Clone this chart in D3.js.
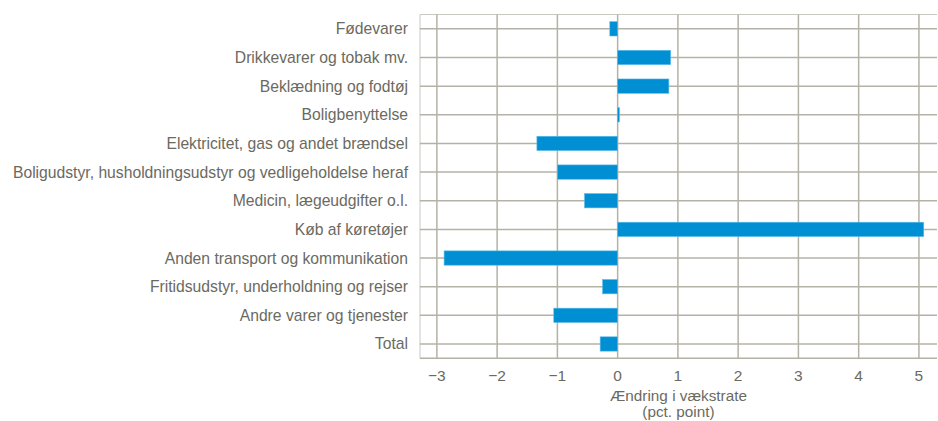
<!DOCTYPE html>
<html>
<head>
<meta charset="utf-8">
<script src="https://cdn.jsdelivr.net/npm/d3@7"></script>
<style>
  body { margin: 0; background: #fff; }
  text { font-family: "Liberation Sans", Arial, sans-serif; fill: #6b6a5f; }
</style>
</head>
<body>
<svg id="chart" width="938" height="421"></svg>
<script>
const categories = [
  "Fødevarer",
  "Drikkevarer og tobak mv.",
  "Beklædning og fodtøj",
  "Boligbenyttelse",
  "Elektricitet, gas og andet brændsel",
  "Boligudstyr, husholdningsudstyr og vedligeholdelse heraf",
  "Medicin, lægeudgifter o.l.",
  "Køb af køretøjer",
  "Anden transport og kommunikation",
  "Fritidsudstyr, underholdning og rejser",
  "Andre varer og tjenester",
  "Total"
];
const values = [-0.13, 0.88, 0.85, 0.03, -1.34, -1.0, -0.55, 5.08, -2.88, -0.25, -1.06, -0.29];
const xTicks = [-3, -2, -1, 0, 1, 2, 3, 4, 5];
const axisTitle = ["Ændring i vækstrate", "(pct. point)"];

const svg = d3.select("#chart");
const margin = { top: 14.5, right: 1, bottom: 62.7, left: 420 };
const width = 938 - margin.left - margin.right;
const height = 421 - margin.top - margin.bottom;

const g = svg.append("g").attr("transform", `translate(${margin.left},${margin.top})`);

const x = d3.scaleLinear().domain([-3.28, 5.3]).range([0, width]);
const y = d3.scaleBand().domain(categories).range([0, height])
  .paddingInner(0.5).paddingOuter(0.25);

const gridColor = "#b4b2a6";

// plot frame (top + left + bottom)
g.append("line").attr("x1", 0).attr("x2", width).attr("y1", 0).attr("y2", 0)
  .attr("stroke", "#c9c8c2").attr("stroke-width", 1);
g.append("line").attr("x1", 0).attr("x2", 0).attr("y1", 0).attr("y2", height)
  .attr("stroke", "#c9c8c2").attr("stroke-width", 1);
g.append("line").attr("x1", 0).attr("x2", width).attr("y1", height).attr("y2", height)
  .attr("stroke", gridColor).attr("stroke-width", 1.5);

// vertical grid
g.selectAll(".vgrid").data(xTicks).enter().append("line")
  .attr("class", "vgrid")
  .attr("x1", d => x(d)).attr("x2", d => x(d))
  .attr("y1", 0).attr("y2", height)
  .attr("stroke", gridColor).attr("stroke-width", 1.5);

// horizontal grid at category centres
g.selectAll(".hgrid").data(categories).enter().append("line")
  .attr("class", "hgrid")
  .attr("x1", 0).attr("x2", width)
  .attr("y1", d => y(d) + y.bandwidth() / 2)
  .attr("y2", d => y(d) + y.bandwidth() / 2)
  .attr("stroke", gridColor).attr("stroke-width", 1.5);

// bars
g.selectAll(".bar").data(values).enter().append("rect")
  .attr("class", "bar")
  .attr("x", d => x(Math.min(0, d)))
  .attr("width", d => Math.abs(x(d) - x(0)))
  .attr("y", (d, i) => y(categories[i]))
  .attr("height", y.bandwidth())
  .attr("fill", "#008fd3")
  .attr("stroke", "#5cbbe9")
  .attr("stroke-width", 0.6);

// category labels
g.selectAll(".cat").data(categories).enter().append("text")
  .attr("class", "cat")
  .attr("x", -12)
  .attr("y", d => y(d) + y.bandwidth() / 2)
  .attr("dy", "0.35em")
  .attr("text-anchor", "end")
  .style("font-size", "15.7px")
  .text(d => d);

// x tick labels
g.selectAll(".tick-label").data(xTicks).enter().append("text")
  .attr("class", "tick-label")
  .attr("x", d => x(d))
  .attr("y", height + 23)
  .attr("text-anchor", "middle")
  .style("font-size", "15.5px")
  .text(d => d < 0 ? "\u2212" + Math.abs(d) : d);

// axis title
g.selectAll(".axis-title").data(axisTitle).enter().append("text")
  .attr("class", "axis-title")
  .attr("x", width / 2)
  .attr("y", (d, i) => height + 43 + i * 15.5)
  .attr("text-anchor", "middle")
  .style("font-size", "15.3px")
  .text(d => d);
</script>
</body>
</html>
